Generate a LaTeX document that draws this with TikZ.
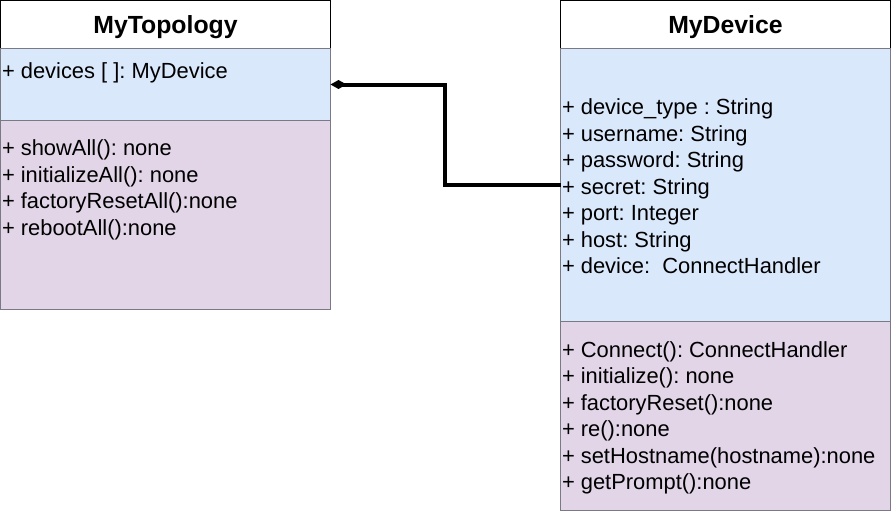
\documentclass[tikz,border=0pt]{standalone}
\usepackage{fontspec}
\setmainfont{Liberation Sans}
\usetikzlibrary{arrows.meta}
\frenchspacing

\definecolor{attrblue}{HTML}{DAE8FC}
\definecolor{methpurple}{HTML}{E1D5E7}
\definecolor{boxgray}{HTML}{7A7A85}

\begin{document}
\begin{tikzpicture}[x=1pt,y=-1pt,
    titlebox/.style={draw=black,fill=white,minimum width=330,minimum height=48,
        text depth=0pt,font=\fontsize{24.8}{28}\selectfont\bfseries},
    attrbox/.style={draw=boxgray,fill=attrblue,minimum width=330},
    methbox/.style={draw=boxgray,fill=methpurple,minimum width=330},
    member/.style={anchor=west,align=left,font=\fontsize{21.9}{26.5}\selectfont}]
\useasboundingbox (0,0) rectangle (891,511);
\begin{scope}[every node/.style={rectangle,inner sep=0pt,outer sep=0pt,anchor=north west}]

    % MyTopology
    \node [titlebox] (topotitle) at (0.5,0.5) {MyTopology};
    \node [attrbox, minimum height=72] (topoattr) at (0.5,48.5) {};
    \node [methbox, minimum height=189] (topometh) at (0.5,120.5) {};

    % MyDevice
    \node [titlebox] (devtitle) at (560.5,0.5) {MyDevice};
    \node [attrbox, minimum height=273] (devattr) at (560.5,48.5) {};
    \node [methbox, minimum height=189] (devmeth) at (560.5,321.5) {};

    \node [member] (topoattrtext) at (2,73) {+ devices [ ]: MyDevice};
    \node [member] (topomethtext) at (2,190) {+ showAll(): none\\
        + initializeAll(): none\\
        + factoryResetAll():none\\
        + rebootAll():none};

    \node [member] (devattrtext) at (562,186.5) {+ device\_type : String\\
        + username: String\\
        + password: String\\
        + secret: String\\
        + port: Integer\\
        + host: String\\
        + device:\ \ ConnectHandler};
    \node [member] (devmethtext) at (562,418) {+ Connect(): ConnectHandler\\
        + initialize(): none\\
        + factoryReset():none\\
        + re():none\\
        + setHostname(hostname):none\\
        + getPrompt():none};

    \draw [line width=4pt, {Diamond[length=16pt,width=9pt]}-] (topoattr.east) -- ++(114,0) |- (devattr.west);

\end{scope}

\end{tikzpicture}
\end{document}
